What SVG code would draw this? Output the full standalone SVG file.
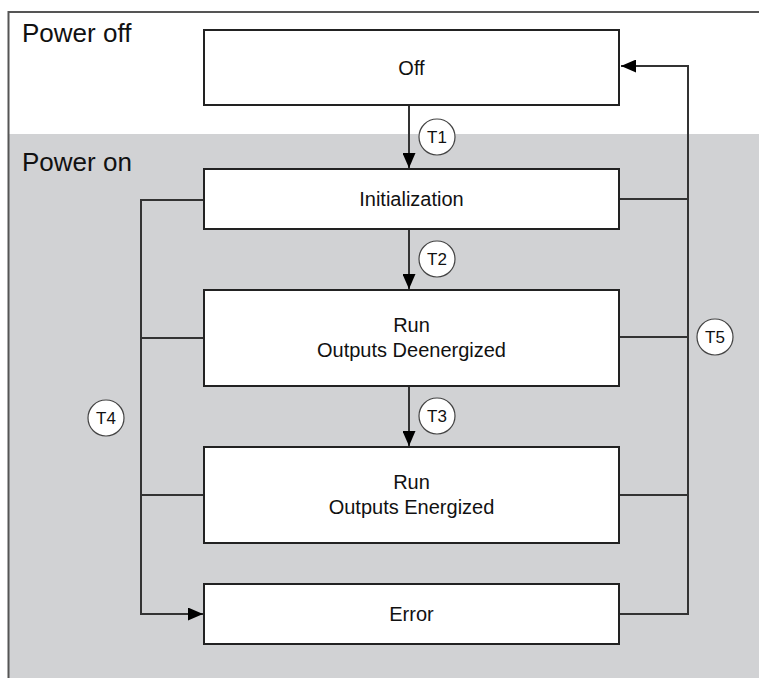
<svg xmlns="http://www.w3.org/2000/svg" width="759" height="678" viewBox="0 0 759 678">
<style>
.box{fill:#ffffff;stroke:#222222;stroke-width:2}
.lbl{font-family:"Liberation Sans",Arial,sans-serif;font-size:20px;fill:#111111;text-anchor:middle}
.zone{font-family:"Liberation Sans",Arial,sans-serif;font-size:26px;fill:#111111}
.tc{fill:#ffffff;stroke:#444444;stroke-width:1.2}
.tt{font-family:"Liberation Sans",Arial,sans-serif;font-size:17px;fill:#111111;text-anchor:middle}
.ln{fill:none;stroke:#333333;stroke-width:2}
</style>
<defs>
<marker id="ah" viewBox="0 0 15 13" refX="15" refY="6.5" markerWidth="15" markerHeight="13" markerUnits="userSpaceOnUse" orient="auto">
<path d="M0,0 L15,6.5 L0,13 Z" fill="#000000"/>
</marker>
</defs>
<g id="background">
<rect x="0" y="0" width="759" height="678" fill="#ffffff"/>
<rect x="9" y="134" width="750" height="544" fill="#d1d2d4"/>
<path d="M8.5,678 L8.5,12 L759,12" fill="none" stroke="#555555" stroke-width="2"/>
<text class="zone" x="22" y="42">Power off</text>
<text class="zone" x="22" y="171">Power on</text>
</g>
<g id="connectors">
<line class="ln" x1="409" y1="105" x2="409" y2="168" marker-end="url(#ah)"/>
<line class="ln" x1="409" y1="229" x2="409" y2="289" marker-end="url(#ah)"/>
<line class="ln" x1="409" y1="386" x2="409" y2="446" marker-end="url(#ah)"/>
<path class="ln" d="M204,200 L141,200 L141,614 L203,614" marker-end="url(#ah)"/>
<line class="ln" x1="141" y1="338" x2="204" y2="338"/>
<line class="ln" x1="141" y1="495" x2="204" y2="495"/>
<path class="ln" d="M619,614 L688,614 L688,66 L621,66" marker-end="url(#ah)"/>
<line class="ln" x1="619" y1="199" x2="688" y2="199"/>
<line class="ln" x1="619" y1="337" x2="688" y2="337"/>
<line class="ln" x1="619" y1="495" x2="688" y2="495"/>
</g>
<g id="off">
<rect class="box" x="204" y="30" width="415" height="75"/>
<text class="lbl" x="411.5" y="75">Off</text>
</g>
<g id="initialization">
<rect class="box" x="204" y="169" width="415" height="60"/>
<text class="lbl" x="411.5" y="206">Initialization</text>
</g>
<g id="run-deenergized">
<rect class="box" x="204" y="290" width="415" height="96"/>
<text class="lbl" x="411.5" y="332">Run</text>
<text class="lbl" x="411.5" y="357">Outputs Deenergized</text>
</g>
<g id="run-energized">
<rect class="box" x="204" y="447" width="415" height="96"/>
<text class="lbl" x="411.5" y="489">Run</text>
<text class="lbl" x="411.5" y="514">Outputs Energized</text>
</g>
<g id="error">
<rect class="box" x="204" y="584" width="415" height="60"/>
<text class="lbl" x="411.5" y="621">Error</text>
</g>
<g id="t1">
<circle class="tc" cx="437" cy="137" r="18"/>
<text class="tt" x="437" y="143">T1</text>
</g>
<g id="t2">
<circle class="tc" cx="437" cy="259" r="18"/>
<text class="tt" x="437" y="265">T2</text>
</g>
<g id="t3">
<circle class="tc" cx="437" cy="416" r="18"/>
<text class="tt" x="437" y="422">T3</text>
</g>
<g id="t4">
<circle class="tc" cx="106" cy="418" r="18"/>
<text class="tt" x="106" y="424">T4</text>
</g>
<g id="t5">
<circle class="tc" cx="715" cy="337" r="18"/>
<text class="tt" x="715" y="343">T5</text>
</g>
</svg>
